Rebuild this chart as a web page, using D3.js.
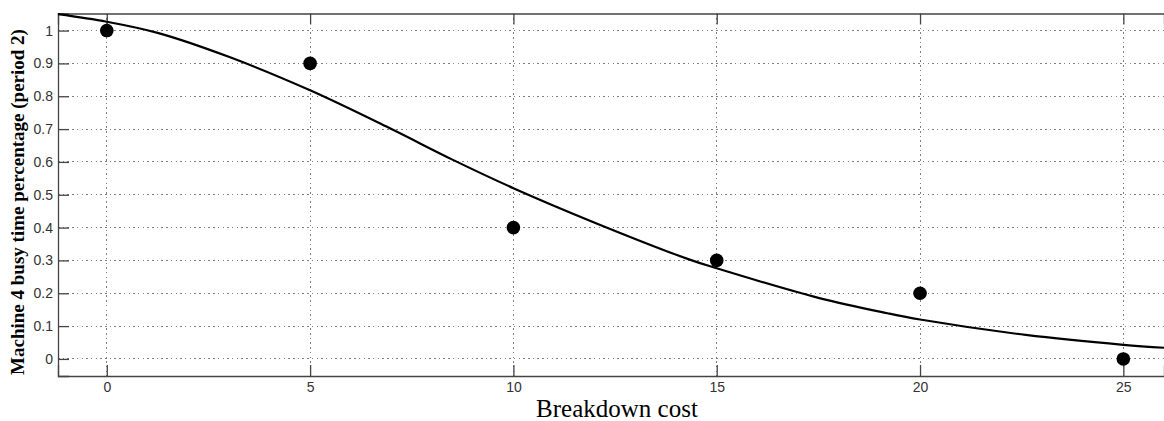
<!DOCTYPE html>
<html>
<head>
<meta charset="utf-8">
<script src="https://cdn.jsdelivr.net/npm/d3@7"></script>
<style>
  body { margin: 0; background: #fff; }
  svg { display: block; }
</style>
</head>
<body>
<div id="chart"></div>
<script>
// observed points
const costs = [0, 5, 10, 15, 20, 25]
const busy = [1, 0.9, 0.4, 0.3, 0.2, 0]

// fitted curve
const fitX = [-1.2, 0, 1.25, 3, 5, 7, 8.5, 10, 12, 14.3, 15, 17.5, 19.2, 20, 22.6, 25, 26]
const fitY = [1.05, 1.027, 0.993, 0.92, 0.818, 0.70, 0.607, 0.52, 0.415, 0.304, 0.276, 0.186, 0.139, 0.12, 0.073, 0.043, 0.034]

const xTicks = [0, 5, 10, 15, 20, 25]
const yTicks = [0, 0.1, 0.2, 0.3, 0.4, 0.5, 0.6, 0.7, 0.8, 0.9, 1]

const width = 1164, height = 421
const margin = {top: 13.5, right: 0, bottom: 45, left: 58}

const svg = d3.select('#chart').append('svg')
  .attr('width', width)
  .attr('height', height)

const x = d3.scaleLinear()
  .domain([-1.2, 26])
  .range([margin.left, width - margin.right])

const y = d3.scaleLinear()
  .domain([-0.052, 1.052])
  .range([height - margin.bottom, margin.top])

const grid = svg.append('g')
const axes = svg.append('g')
const marks = svg.append('g')

// dotted grid
grid.selectAll('line.gy')
  .data(yTicks)
  .enter().append('line')
  .attr('class', 'gy')
  .attr('x1', margin.left).attr('x2', width)
  .attr('y1', d => y(d)).attr('y2', d => y(d))

grid.selectAll('line.gx')
  .data(xTicks)
  .enter().append('line')
  .attr('class', 'gx')
  .attr('x1', d => x(d)).attr('x2', d => x(d))
  .attr('y1', margin.top).attr('y2', height - margin.bottom)

grid.selectAll('line')
  .attr('stroke', '#808080')
  .attr('stroke-width', 1)
  .attr('stroke-dasharray', '1.5,3.2')
  .attr('shape-rendering', 'crispEdges')

// axes
const tk = 11
axes.append('g')
  .attr('transform', `translate(${margin.left},0)`)
  .call(d3.axisLeft(y).tickValues(yTicks).tickSize(-tk).tickPadding(5).tickFormat(d3.format('')))

axes.append('g')
  .attr('transform', `translate(0,${height - margin.bottom})`)
  .call(d3.axisBottom(x).tickValues(xTicks).tickSize(-tk).tickPadding(6))

axes.append('g')
  .attr('transform', `translate(0,${margin.top})`)
  .call(d3.axisTop(x).tickValues(xTicks).tickSize(-tk).tickFormat(''))

axes.selectAll('.domain')
  .attr('stroke', '#444')
  .attr('stroke-width', 1.3)
axes.selectAll('.tick line')
  .attr('stroke', '#444')
  .attr('stroke-width', 1.3)
axes.selectAll('.tick text')
  .attr('fill', '#333')
  .style('font-family', 'Arial, "Liberation Sans", sans-serif')
  .style('font-size', '14px')

// fitted line
const line = d3.line()
  .x(d => x(d[0]))
  .y(d => y(d[1]))
  .curve(d3.curveCatmullRom.alpha(0.5))

marks.append('path')
  .datum(d3.zip(fitX, fitY))
  .attr('d', line)
  .attr('fill', 'none')
  .attr('stroke', '#000')
  .attr('stroke-width', 2.2)

marks.selectAll('circle')
  .data(d3.zip(costs, busy))
  .enter().append('circle')
  .attr('cx', d => x(d[0]))
  .attr('cy', d => y(d[1]))
  .attr('r', 6.8)
  .attr('fill', '#000')

// axis titles
svg.append('text')
  .attr('x', 617)
  .attr('y', 417)
  .attr('text-anchor', 'middle')
  .style('font-family', '"Times New Roman", "Liberation Serif", serif')
  .style('font-size', '25px')
  .text('Breakdown cost')

svg.append('text')
  .attr('transform', `translate(24,202) rotate(-90)`)
  .attr('text-anchor', 'middle')
  .style('font-family', '"Times New Roman", "Liberation Serif", serif')
  .style('font-size', '19px')
  .style('font-weight', 'bold')
  .text('Machine 4 busy time percentage (period 2)')
</script>
</body>
</html>
